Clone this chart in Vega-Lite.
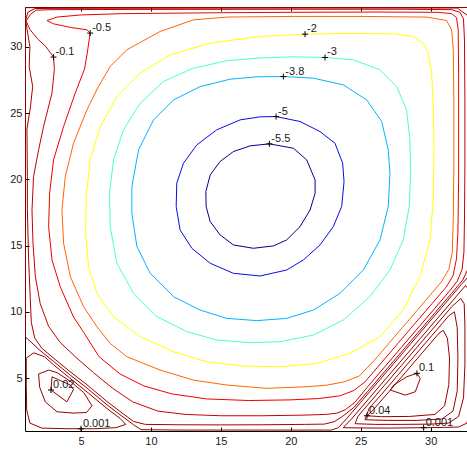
{
"$schema":"https://vega.github.io/schema/vega-lite/v6.json",
"width":442,"height":424,
"autosize":{"type":"none"},
"padding":{"left":25,"top":7,"right":0,"bottom":19},
"background":"white",
"config":{"view":{"stroke":null},"font":"Liberation Sans","axis":{"grid":false,"domainColor":"#000","tickColor":"#000","labelColor":"#1a1a1a","labelFontSize":11,"labelFont":"Liberation Sans","tickSize":-4,"title":null,"domainWidth":1,"tickWidth":1}},
"datasets":{
"c":[
{"c":"a","l":"-5.5","i":0,"x":18.47,"y":22.67},{"c":"a","l":"-5.5","i":1,"x":20.19,"y":22.34},{"c":"a","l":"-5.5","i":2,"x":21.14,"y":21.46},{"c":"a","l":"-5.5","i":3,"x":21.74,"y":19.95},{"c":"a","l":"-5.5","i":4,"x":21.74,"y":18.94},{"c":"a","l":"-5.5","i":5,"x":21.38,"y":17.68},{"c":"a","l":"-5.5","i":6,"x":20.66,"y":16.42},{"c":"a","l":"-5.5","i":7,"x":19.71,"y":15.42},{"c":"a","l":"-5.5","i":8,"x":18.76,"y":14.97},{"c":"a","l":"-5.5","i":9,"x":17.33,"y":14.79},{"c":"a","l":"-5.5","i":10,"x":15.9,"y":15.04},{"c":"a","l":"-5.5","i":11,"x":14.95,"y":15.8},{"c":"a","l":"-5.5","i":12,"x":14.24,"y":16.8},{"c":"a","l":"-5.5","i":13,"x":13.95,"y":17.94},{"c":"a","l":"-5.5","i":14,"x":13.93,"y":19.07},{"c":"a","l":"-5.5","i":15,"x":14.24,"y":20.33},{"c":"a","l":"-5.5","i":16,"x":14.95,"y":21.34},{"c":"a","l":"-5.5","i":17,"x":15.9,"y":22.09},{"c":"a","l":"-5.5","i":18,"x":17.09,"y":22.52},{"c":"a","l":"-5.5","i":19,"x":18.47,"y":22.67},
{"c":"b","l":"-5","i":0,"x":18.95,"y":24.73},{"c":"b","l":"-5","i":1,"x":20.66,"y":24.36},{"c":"b","l":"-5","i":2,"x":22.09,"y":23.6},{"c":"b","l":"-5","i":3,"x":23.16,"y":22.72},{"c":"b","l":"-5","i":4,"x":23.71,"y":21.21},{"c":"b","l":"-5","i":5,"x":23.81,"y":19.82},{"c":"b","l":"-5","i":6,"x":23.64,"y":17.94},{"c":"b","l":"-5","i":7,"x":23.04,"y":16.42},{"c":"b","l":"-5","i":8,"x":22.09,"y":15.04},{"c":"b","l":"-5","i":9,"x":20.9,"y":13.91},{"c":"b","l":"-5","i":10,"x":19.71,"y":13.15},{"c":"b","l":"-5","i":11,"x":17.81,"y":12.7},{"c":"b","l":"-5","i":12,"x":15.9,"y":12.9},{"c":"b","l":"-5","i":13,"x":14.24,"y":13.66},{"c":"b","l":"-5","i":14,"x":12.93,"y":14.79},{"c":"b","l":"-5","i":15,"x":12.09,"y":16.17},{"c":"b","l":"-5","i":16,"x":11.81,"y":17.94},{"c":"b","l":"-5","i":17,"x":11.85,"y":19.7},{"c":"b","l":"-5","i":18,"x":12.33,"y":21.21},{"c":"b","l":"-5","i":19,"x":13.28,"y":22.59},{"c":"b","l":"-5","i":20,"x":14.71,"y":23.73},{"c":"b","l":"-5","i":21,"x":16.38,"y":24.48},{"c":"b","l":"-5","i":22,"x":17.81,"y":24.71},{"c":"b","l":"-5","i":23,"x":18.95,"y":24.73},
{"c":"c","l":"-3.8","i":0,"x":19.47,"y":27.75},{"c":"c","l":"-3.8","i":1,"x":21.62,"y":27.63},{"c":"c","l":"-3.8","i":2,"x":23.76,"y":27.12},{"c":"c","l":"-3.8","i":3,"x":25.43,"y":25.99},{"c":"c","l":"-3.8","i":4,"x":26.5,"y":24.36},{"c":"c","l":"-3.8","i":5,"x":26.97,"y":22.22},{"c":"c","l":"-3.8","i":6,"x":27.09,"y":20.45},{"c":"c","l":"-3.8","i":7,"x":26.97,"y":17.94},{"c":"c","l":"-3.8","i":8,"x":26.38,"y":15.42},{"c":"c","l":"-3.8","i":9,"x":25.19,"y":13.15},{"c":"c","l":"-3.8","i":10,"x":23.52,"y":11.39},{"c":"c","l":"-3.8","i":11,"x":21.62,"y":10.13},{"c":"c","l":"-3.8","i":12,"x":19.71,"y":9.5},{"c":"c","l":"-3.8","i":13,"x":17.57,"y":9.33},{"c":"c","l":"-3.8","i":14,"x":15.43,"y":9.5},{"c":"c","l":"-3.8","i":15,"x":13.52,"y":10.13},{"c":"c","l":"-3.8","i":16,"x":11.62,"y":11.14},{"c":"c","l":"-3.8","i":17,"x":9.95,"y":12.9},{"c":"c","l":"-3.8","i":18,"x":9.0,"y":14.92},{"c":"c","l":"-3.8","i":19,"x":8.64,"y":17.43},{"c":"c","l":"-3.8","i":20,"x":8.64,"y":19.45},{"c":"c","l":"-3.8","i":21,"x":9.12,"y":22.22},{"c":"c","l":"-3.8","i":22,"x":10.19,"y":24.48},{"c":"c","l":"-3.8","i":23,"x":11.62,"y":25.99},{"c":"c","l":"-3.8","i":24,"x":13.52,"y":26.99},{"c":"c","l":"-3.8","i":25,"x":15.66,"y":27.55},{"c":"c","l":"-3.8","i":26,"x":17.57,"y":27.73},{"c":"c","l":"-3.8","i":27,"x":19.47,"y":27.75},
{"c":"d","l":"-3","i":0,"x":22.45,"y":29.19},{"c":"d","l":"-3","i":1,"x":24.47,"y":29.01},{"c":"d","l":"-3","i":2,"x":26.38,"y":28.26},{"c":"d","l":"-3","i":3,"x":27.57,"y":27.0},{"c":"d","l":"-3","i":4,"x":28.28,"y":25.24},{"c":"d","l":"-3","i":5,"x":28.52,"y":22.97},{"c":"d","l":"-3","i":6,"x":28.57,"y":20.45},{"c":"d","l":"-3","i":7,"x":28.47,"y":17.94},{"c":"d","l":"-3","i":8,"x":28.04,"y":15.42},{"c":"d","l":"-3","i":9,"x":27.09,"y":13.15},{"c":"d","l":"-3","i":10,"x":25.66,"y":11.14},{"c":"d","l":"-3","i":11,"x":23.76,"y":9.38},{"c":"d","l":"-3","i":12,"x":21.62,"y":8.24},{"c":"d","l":"-3","i":13,"x":19.24,"y":7.74},{"c":"d","l":"-3","i":14,"x":17.09,"y":7.66},{"c":"d","l":"-3","i":15,"x":14.71,"y":7.87},{"c":"d","l":"-3","i":16,"x":12.57,"y":8.5},{"c":"d","l":"-3","i":17,"x":10.43,"y":9.63},{"c":"d","l":"-3","i":18,"x":8.76,"y":11.39},{"c":"d","l":"-3","i":19,"x":7.57,"y":13.66},{"c":"d","l":"-3","i":20,"x":7.09,"y":16.42},{"c":"d","l":"-3","i":21,"x":7.04,"y":18.94},{"c":"d","l":"-3","i":22,"x":7.33,"y":21.46},{"c":"d","l":"-3","i":23,"x":8.04,"y":23.73},{"c":"d","l":"-3","i":24,"x":9.24,"y":25.74},{"c":"d","l":"-3","i":25,"x":10.9,"y":27.38},{"c":"d","l":"-3","i":26,"x":13.04,"y":28.38},{"c":"d","l":"-3","i":27,"x":15.43,"y":28.94},{"c":"d","l":"-3","i":28,"x":17.81,"y":29.16},{"c":"d","l":"-3","i":29,"x":20.19,"y":29.24},{"c":"d","l":"-3","i":30,"x":22.45,"y":29.19},
{"c":"e","l":"-2","i":0,"x":21.02,"y":30.95},{"c":"e","l":"-2","i":1,"x":23.76,"y":31.0},{"c":"e","l":"-2","i":2,"x":27.33,"y":30.98},{"c":"e","l":"-2","i":3,"x":28.76,"y":30.78},{"c":"e","l":"-2","i":4,"x":29.47,"y":30.27},{"c":"e","l":"-2","i":5,"x":29.83,"y":29.52},{"c":"e","l":"-2","i":6,"x":30.07,"y":28.01},{"c":"e","l":"-2","i":7,"x":30.19,"y":25.49},{"c":"e","l":"-2","i":8,"x":30.24,"y":22.22},{"c":"e","l":"-2","i":9,"x":30.19,"y":18.44},{"c":"e","l":"-2","i":10,"x":29.95,"y":15.42},{"c":"e","l":"-2","i":11,"x":29.24,"y":12.65},{"c":"e","l":"-2","i":12,"x":28.04,"y":10.13},{"c":"e","l":"-2","i":13,"x":26.38,"y":8.12},{"c":"e","l":"-2","i":14,"x":24.24,"y":6.86},{"c":"e","l":"-2","i":15,"x":21.85,"y":6.1},{"c":"e","l":"-2","i":16,"x":19.24,"y":5.85},{"c":"e","l":"-2","i":17,"x":16.62,"y":5.9},{"c":"e","l":"-2","i":18,"x":14.0,"y":6.23},{"c":"e","l":"-2","i":19,"x":11.62,"y":6.98},{"c":"e","l":"-2","i":20,"x":9.24,"y":8.12},{"c":"e","l":"-2","i":21,"x":7.33,"y":9.63},{"c":"e","l":"-2","i":22,"x":6.14,"y":11.39},{"c":"e","l":"-2","i":23,"x":5.54,"y":13.4},{"c":"e","l":"-2","i":24,"x":5.33,"y":15.92},{"c":"e","l":"-2","i":25,"x":5.38,"y":18.69},{"c":"e","l":"-2","i":26,"x":5.66,"y":21.46},{"c":"e","l":"-2","i":27,"x":6.38,"y":23.98},{"c":"e","l":"-2","i":28,"x":7.57,"y":26.24},{"c":"e","l":"-2","i":29,"x":9.24,"y":28.01},{"c":"e","l":"-2","i":30,"x":11.38,"y":29.39},{"c":"e","l":"-2","i":31,"x":14.24,"y":30.27},{"c":"e","l":"-2","i":32,"x":17.81,"y":30.78},{"c":"e","l":"-2","i":33,"x":21.02,"y":30.95},
{"c":"f","l":"-1","i":0,"x":7.09,"y":28.51},{"c":"f","l":"-1","i":1,"x":8.28,"y":29.77},{"c":"f","l":"-1","i":2,"x":10.66,"y":31.15},{"c":"f","l":"-1","i":3,"x":13.04,"y":32.03},{"c":"f","l":"-1","i":4,"x":15.43,"y":32.24},{"c":"f","l":"-1","i":5,"x":20.19,"y":32.29},{"c":"f","l":"-1","i":6,"x":24.95,"y":32.29},{"c":"f","l":"-1","i":7,"x":29.71,"y":32.24},{"c":"f","l":"-1","i":8,"x":31.14,"y":31.98},{"c":"f","l":"-1","i":9,"x":31.5,"y":31.28},{"c":"f","l":"-1","i":10,"x":31.62,"y":29.77},{"c":"f","l":"-1","i":11,"x":31.66,"y":25.99},{"c":"f","l":"-1","i":12,"x":31.66,"y":20.96},{"c":"f","l":"-1","i":13,"x":31.62,"y":17.18},{"c":"f","l":"-1","i":14,"x":31.55,"y":14.5},{"c":"f","l":"-1","i":15,"x":31.3,"y":13.2},{"c":"f","l":"-1","i":16,"x":30.8,"y":12.3},{"c":"f","l":"-1","i":17,"x":30.0,"y":11.3},{"c":"f","l":"-1","i":18,"x":29.0,"y":10.06},{"c":"f","l":"-1","i":19,"x":28.0,"y":8.83},{"c":"f","l":"-1","i":20,"x":27.0,"y":7.6},{"c":"f","l":"-1","i":21,"x":26.0,"y":6.36},{"c":"f","l":"-1","i":22,"x":24.9,"y":5.15},{"c":"f","l":"-1","i":23,"x":23.8,"y":4.7},{"c":"f","l":"-1","i":24,"x":22.5,"y":4.45},{"c":"f","l":"-1","i":25,"x":21.14,"y":4.34},{"c":"f","l":"-1","i":26,"x":18.28,"y":4.22},{"c":"f","l":"-1","i":27,"x":15.43,"y":4.47},{"c":"f","l":"-1","i":28,"x":13.04,"y":4.84},{"c":"f","l":"-1","i":29,"x":10.66,"y":5.6},{"c":"f","l":"-1","i":30,"x":8.28,"y":6.61},{"c":"f","l":"-1","i":31,"x":7.1,"y":7.6},{"c":"f","l":"-1","i":32,"x":6.14,"y":8.87},{"c":"f","l":"-1","i":33,"x":5.19,"y":10.38},{"c":"f","l":"-1","i":34,"x":4.24,"y":12.65},{"c":"f","l":"-1","i":35,"x":3.76,"y":15.17},{"c":"f","l":"-1","i":36,"x":3.64,"y":17.68},{"c":"f","l":"-1","i":37,"x":3.88,"y":20.2},{"c":"f","l":"-1","i":38,"x":4.47,"y":22.72},{"c":"f","l":"-1","i":39,"x":5.43,"y":25.24},{"c":"f","l":"-1","i":40,"x":6.2,"y":26.9},{"c":"f","l":"-1","i":41,"x":7.09,"y":28.51},
{"c":"g","l":"-0.5","i":0,"x":2.57,"y":31.98},{"c":"g","l":"-0.5","i":1,"x":3.3,"y":32.24},{"c":"g","l":"-0.5","i":2,"x":5.0,"y":32.4},{"c":"g","l":"-0.5","i":3,"x":8.0,"y":32.5},{"c":"g","l":"-0.5","i":4,"x":14.0,"y":32.56},{"c":"g","l":"-0.5","i":5,"x":20.0,"y":32.6},{"c":"g","l":"-0.5","i":6,"x":26.0,"y":32.62},{"c":"g","l":"-0.5","i":7,"x":30.5,"y":32.6},{"c":"g","l":"-0.5","i":8,"x":31.5,"y":32.5},{"c":"g","l":"-0.5","i":9,"x":31.85,"y":32.2},{"c":"g","l":"-0.5","i":10,"x":31.97,"y":31.3},{"c":"g","l":"-0.5","i":11,"x":32.0,"y":28.0},{"c":"g","l":"-0.5","i":12,"x":32.0,"y":24.0},{"c":"g","l":"-0.5","i":13,"x":32.0,"y":20.0},{"c":"g","l":"-0.5","i":14,"x":31.95,"y":16.0},{"c":"g","l":"-0.5","i":15,"x":31.85,"y":14.0},{"c":"g","l":"-0.5","i":16,"x":31.6,"y":12.7},{"c":"g","l":"-0.5","i":17,"x":31.1,"y":11.85},{"c":"g","l":"-0.5","i":18,"x":30.1,"y":10.62},{"c":"g","l":"-0.5","i":19,"x":28.9,"y":9.14},{"c":"g","l":"-0.5","i":20,"x":27.7,"y":7.66},{"c":"g","l":"-0.5","i":21,"x":26.5,"y":6.18},{"c":"g","l":"-0.5","i":22,"x":25.3,"y":4.7},{"c":"g","l":"-0.5","i":23,"x":24.5,"y":4.05},{"c":"g","l":"-0.5","i":24,"x":23.5,"y":3.65},{"c":"g","l":"-0.5","i":25,"x":22.0,"y":3.45},{"c":"g","l":"-0.5","i":26,"x":20.0,"y":3.35},{"c":"g","l":"-0.5","i":27,"x":17.0,"y":3.3},{"c":"g","l":"-0.5","i":28,"x":14.0,"y":3.42},{"c":"g","l":"-0.5","i":29,"x":11.5,"y":3.8},{"c":"g","l":"-0.5","i":30,"x":9.5,"y":4.4},{"c":"g","l":"-0.5","i":31,"x":7.8,"y":5.3},{"c":"g","l":"-0.5","i":32,"x":6.3,"y":6.6},{"c":"g","l":"-0.5","i":33,"x":5.1,"y":8.6},{"c":"g","l":"-0.5","i":34,"x":4.47,"y":9.6},{"c":"g","l":"-0.5","i":35,"x":3.52,"y":11.89},{"c":"g","l":"-0.5","i":36,"x":2.93,"y":13.91},{"c":"g","l":"-0.5","i":37,"x":2.69,"y":16.42},{"c":"g","l":"-0.5","i":38,"x":2.76,"y":18.95},{"c":"g","l":"-0.5","i":39,"x":3.04,"y":21.46},{"c":"g","l":"-0.5","i":40,"x":3.76,"y":23.98},{"c":"g","l":"-0.5","i":41,"x":4.59,"y":26.5},{"c":"g","l":"-0.5","i":42,"x":5.25,"y":28.3},{"c":"g","l":"-0.5","i":43,"x":5.45,"y":29.5},{"c":"g","l":"-0.5","i":44,"x":5.54,"y":30.2},{"c":"g","l":"-0.5","i":45,"x":5.66,"y":31.03},{"c":"g","l":"-0.5","i":46,"x":5.43,"y":31.28},{"c":"g","l":"-0.5","i":47,"x":4.3,"y":31.45},{"c":"g","l":"-0.5","i":48,"x":3.04,"y":31.73},{"c":"g","l":"-0.5","i":49,"x":2.57,"y":31.98},
{"c":"h","l":"-0.1","i":0,"x":3.04,"y":29.22},{"c":"h","l":"-0.1","i":1,"x":2.5,"y":30.0},{"c":"h","l":"-0.1","i":2,"x":1.9,"y":30.6},{"c":"h","l":"-0.1","i":3,"x":1.35,"y":31.3},{"c":"h","l":"-0.1","i":4,"x":1.08,"y":31.95},{"c":"h","l":"-0.1","i":5,"x":1.4,"y":32.45},{"c":"h","l":"-0.1","i":6,"x":1.8,"y":32.76},{"c":"h","l":"-0.1","i":7,"x":3.0,"y":32.8},{"c":"h","l":"-0.1","i":8,"x":10.0,"y":32.82},{"c":"h","l":"-0.1","i":9,"x":20.0,"y":32.83},{"c":"h","l":"-0.1","i":10,"x":28.0,"y":32.83},{"c":"h","l":"-0.1","i":11,"x":31.5,"y":32.8},{"c":"h","l":"-0.1","i":12,"x":32.1,"y":32.6},{"c":"h","l":"-0.1","i":13,"x":32.35,"y":32.1},{"c":"h","l":"-0.1","i":14,"x":32.42,"y":30.5},{"c":"h","l":"-0.1","i":15,"x":32.45,"y":26.0},{"c":"h","l":"-0.1","i":16,"x":32.45,"y":21.0},{"c":"h","l":"-0.1","i":17,"x":32.42,"y":17.0},{"c":"h","l":"-0.1","i":18,"x":32.38,"y":14.5},{"c":"h","l":"-0.1","i":19,"x":32.25,"y":13.2},{"c":"h","l":"-0.1","i":20,"x":31.9,"y":12.3},{"c":"h","l":"-0.1","i":21,"x":31.3,"y":11.5},{"c":"h","l":"-0.1","i":22,"x":30.3,"y":10.26},{"c":"h","l":"-0.1","i":23,"x":29.1,"y":8.78},{"c":"h","l":"-0.1","i":24,"x":27.9,"y":7.3},{"c":"h","l":"-0.1","i":25,"x":26.7,"y":5.82},{"c":"h","l":"-0.1","i":26,"x":25.5,"y":4.34},{"c":"h","l":"-0.1","i":27,"x":24.6,"y":3.18},{"c":"h","l":"-0.1","i":28,"x":23.9,"y":2.6},{"c":"h","l":"-0.1","i":29,"x":23.3,"y":2.35},{"c":"h","l":"-0.1","i":30,"x":22.5,"y":2.25},{"c":"h","l":"-0.1","i":31,"x":21.0,"y":2.2},{"c":"h","l":"-0.1","i":32,"x":18.0,"y":2.15},{"c":"h","l":"-0.1","i":33,"x":15.0,"y":2.15},{"c":"h","l":"-0.1","i":34,"x":12.5,"y":2.25},{"c":"h","l":"-0.1","i":35,"x":10.5,"y":2.5},{"c":"h","l":"-0.1","i":36,"x":8.7,"y":3.2},{"c":"h","l":"-0.1","i":37,"x":7.3,"y":4.2},{"c":"h","l":"-0.1","i":38,"x":5.9,"y":5.4},{"c":"h","l":"-0.1","i":39,"x":4.6,"y":6.6},{"c":"h","l":"-0.1","i":40,"x":3.5,"y":7.7},{"c":"h","l":"-0.1","i":41,"x":2.69,"y":8.9},{"c":"h","l":"-0.1","i":42,"x":2.09,"y":10.6},{"c":"h","l":"-0.1","i":43,"x":1.74,"y":12.65},{"c":"h","l":"-0.1","i":44,"x":1.57,"y":15.2},{"c":"h","l":"-0.1","i":45,"x":1.5,"y":17.68},{"c":"h","l":"-0.1","i":46,"x":1.61,"y":20.2},{"c":"h","l":"-0.1","i":47,"x":1.97,"y":22.2},{"c":"h","l":"-0.1","i":48,"x":2.33,"y":24.0},{"c":"h","l":"-0.1","i":49,"x":2.93,"y":26.5},{"c":"h","l":"-0.1","i":50,"x":3.1,"y":28.3},{"c":"h","l":"-0.1","i":51,"x":3.04,"y":29.22},
{"c":"i","l":"-0.01","i":0,"x":1.05,"y":32.0},{"c":"i","l":"-0.01","i":1,"x":1.15,"y":31.3},{"c":"i","l":"-0.01","i":2,"x":1.35,"y":30.0},{"c":"i","l":"-0.01","i":3,"x":1.3,"y":28.5},{"c":"i","l":"-0.01","i":4,"x":1.55,"y":27.0},{"c":"i","l":"-0.01","i":5,"x":1.38,"y":25.4},{"c":"i","l":"-0.01","i":6,"x":1.14,"y":23.8},{"c":"i","l":"-0.01","i":7,"x":1.17,"y":20.2},{"c":"i","l":"-0.01","i":8,"x":1.17,"y":17.7},{"c":"i","l":"-0.01","i":9,"x":1.26,"y":13.9},{"c":"i","l":"-0.01","i":10,"x":1.38,"y":10.9},{"c":"i","l":"-0.01","i":11,"x":1.45,"y":9.2},{"c":"i","l":"-0.01","i":12,"x":1.7,"y":8.0},{"c":"i","l":"-0.01","i":13,"x":2.2,"y":7.25},{"c":"i","l":"-0.01","i":14,"x":3.04,"y":6.5},{"c":"i","l":"-0.01","i":15,"x":4.2,"y":5.5},{"c":"i","l":"-0.01","i":16,"x":5.43,"y":4.49},{"c":"i","l":"-0.01","i":17,"x":6.86,"y":3.23},{"c":"i","l":"-0.01","i":18,"x":7.8,"y":2.47},{"c":"i","l":"-0.01","i":19,"x":8.76,"y":1.72},{"c":"i","l":"-0.01","i":20,"x":9.6,"y":1.5},{"c":"i","l":"-0.01","i":21,"x":12.0,"y":1.47},{"c":"i","l":"-0.01","i":22,"x":15.0,"y":1.46},{"c":"i","l":"-0.01","i":23,"x":18.0,"y":1.47},{"c":"i","l":"-0.01","i":24,"x":21.0,"y":1.5},{"c":"i","l":"-0.01","i":25,"x":22.4,"y":1.52},{"c":"i","l":"-0.01","i":26,"x":23.1,"y":1.7},{"c":"i","l":"-0.01","i":27,"x":23.7,"y":2.1},{"c":"i","l":"-0.01","i":28,"x":24.5,"y":2.76},{"c":"i","l":"-0.01","i":29,"x":25.5,"y":3.99},{"c":"i","l":"-0.01","i":30,"x":26.7,"y":5.47},{"c":"i","l":"-0.01","i":31,"x":27.9,"y":6.95},{"c":"i","l":"-0.01","i":32,"x":29.1,"y":8.43},{"c":"i","l":"-0.01","i":33,"x":30.3,"y":9.91},{"c":"i","l":"-0.01","i":34,"x":31.5,"y":11.39},{"c":"i","l":"-0.01","i":35,"x":32.3,"y":12.4},{"c":"i","l":"-0.01","i":36,"x":32.7,"y":13.3},{"c":"i","l":"-0.01","i":37,"x":32.75,"y":15.0},{"c":"i","l":"-0.01","i":38,"x":32.75,"y":20.0},{"c":"i","l":"-0.01","i":39,"x":32.75,"y":30.0},{"c":"i","l":"-0.01","i":40,"x":32.72,"y":32.3},{"c":"i","l":"-0.01","i":41,"x":31.9,"y":32.92},{"c":"i","l":"-0.01","i":42,"x":20.0,"y":32.92},{"c":"i","l":"-0.01","i":43,"x":3.0,"y":32.9},{"c":"i","l":"-0.01","i":44,"x":1.7,"y":32.88},{"c":"i","l":"-0.01","i":45,"x":1.2,"y":32.6},{"c":"i","l":"-0.01","i":46,"x":1.05,"y":32.0},
{"c":"j","l":"-0.001","i":0,"x":1.03,"y":32.95},{"c":"j","l":"-0.001","i":1,"x":1.03,"y":20.0},{"c":"j","l":"-0.001","i":2,"x":1.03,"y":8.1},{"c":"j","l":"-0.001","i":3,"x":2.0,"y":7.15},{"c":"j","l":"-0.001","i":4,"x":3.04,"y":6.25},{"c":"j","l":"-0.001","i":5,"x":4.2,"y":5.25},{"c":"j","l":"-0.001","i":6,"x":5.43,"y":4.24},{"c":"j","l":"-0.001","i":7,"x":6.86,"y":2.98},{"c":"j","l":"-0.001","i":8,"x":7.8,"y":2.22},{"c":"j","l":"-0.001","i":9,"x":8.76,"y":1.47},{"c":"j","l":"-0.001","i":10,"x":9.3,"y":1.1},{"c":"j","l":"-0.001","i":11,"x":12.0,"y":1.07},{"c":"j","l":"-0.001","i":12,"x":18.0,"y":1.07},{"c":"j","l":"-0.001","i":13,"x":22.9,"y":1.07},{"c":"j","l":"-0.001","i":14,"x":23.4,"y":1.25},{"c":"j","l":"-0.001","i":15,"x":24.0,"y":1.94},{"c":"j","l":"-0.001","i":16,"x":25.0,"y":3.17},{"c":"j","l":"-0.001","i":17,"x":26.2,"y":4.66},{"c":"j","l":"-0.001","i":18,"x":27.4,"y":6.14},{"c":"j","l":"-0.001","i":19,"x":28.6,"y":7.62},{"c":"j","l":"-0.001","i":20,"x":29.8,"y":9.1},{"c":"j","l":"-0.001","i":21,"x":31.0,"y":10.58},{"c":"j","l":"-0.001","i":22,"x":32.2,"y":12.06},{"c":"j","l":"-0.001","i":23,"x":32.9,"y":12.9},{"c":"j","l":"-0.001","i":24,"x":32.95,"y":20.0},{"c":"j","l":"-0.001","i":25,"x":32.95,"y":32.96},{"c":"j","l":"-0.001","i":26,"x":20.0,"y":32.97},{"c":"j","l":"-0.001","i":27,"x":1.03,"y":32.95},
{"c":"k","l":"0.001","i":0,"x":1.09,"y":6.5},{"c":"k","l":"0.001","i":1,"x":1.62,"y":6.9},{"c":"k","l":"0.001","i":2,"x":2.4,"y":6.6},{"c":"k","l":"0.001","i":3,"x":3.04,"y":6.0},{"c":"k","l":"0.001","i":4,"x":4.2,"y":5.0},{"c":"k","l":"0.001","i":5,"x":5.43,"y":3.95},{"c":"k","l":"0.001","i":6,"x":6.86,"y":2.7},{"c":"k","l":"0.001","i":7,"x":7.8,"y":1.95},{"c":"k","l":"0.001","i":8,"x":8.2,"y":1.5},{"c":"k","l":"0.001","i":9,"x":7.5,"y":1.25},{"c":"k","l":"0.001","i":10,"x":6.0,"y":1.17},{"c":"k","l":"0.001","i":11,"x":4.0,"y":1.17},{"c":"k","l":"0.001","i":12,"x":2.2,"y":1.22},{"c":"k","l":"0.001","i":13,"x":1.35,"y":1.6},{"c":"k","l":"0.001","i":14,"x":1.12,"y":2.6},{"c":"k","l":"0.001","i":15,"x":1.09,"y":4.5},{"c":"k","l":"0.001","i":16,"x":1.09,"y":6.5},
{"c":"l","l":"0.01","i":0,"x":1.97,"y":5.3},{"c":"l","l":"0.01","i":1,"x":2.7,"y":5.6},{"c":"l","l":"0.01","i":2,"x":3.3,"y":5.4},{"c":"l","l":"0.01","i":3,"x":4.24,"y":4.75},{"c":"l","l":"0.01","i":4,"x":5.2,"y":3.9},{"c":"l","l":"0.01","i":5,"x":5.79,"y":2.9},{"c":"l","l":"0.01","i":6,"x":5.4,"y":2.4},{"c":"l","l":"0.01","i":7,"x":4.5,"y":2.35},{"c":"l","l":"0.01","i":8,"x":3.29,"y":2.45},{"c":"l","l":"0.01","i":9,"x":2.45,"y":3.2},{"c":"l","l":"0.01","i":10,"x":2.05,"y":4.3},{"c":"l","l":"0.01","i":11,"x":1.97,"y":5.3},
{"c":"m","l":"0.02","i":0,"x":2.93,"y":5.09},{"c":"m","l":"0.02","i":1,"x":4.24,"y":4.47},{"c":"m","l":"0.02","i":2,"x":4.47,"y":4.14},{"c":"m","l":"0.02","i":3,"x":4.0,"y":3.2},{"c":"m","l":"0.02","i":4,"x":2.86,"y":4.09},{"c":"m","l":"0.02","i":5,"x":2.93,"y":5.09},
{"c":"n","l":"0.001","i":0,"x":23.75,"y":1.25},{"c":"n","l":"0.001","i":1,"x":24.4,"y":1.98},{"c":"n","l":"0.001","i":2,"x":25.6,"y":3.46},{"c":"n","l":"0.001","i":3,"x":26.8,"y":4.95},{"c":"n","l":"0.001","i":4,"x":28.0,"y":6.43},{"c":"n","l":"0.001","i":5,"x":29.2,"y":7.91},{"c":"n","l":"0.001","i":6,"x":30.4,"y":9.39},{"c":"n","l":"0.001","i":7,"x":31.6,"y":10.87},{"c":"n","l":"0.001","i":8,"x":32.5,"y":11.98},{"c":"n","l":"0.001","i":9,"x":32.85,"y":11.5},{"c":"n","l":"0.001","i":10,"x":32.85,"y":8.0},{"c":"n","l":"0.001","i":11,"x":32.85,"y":3.0},{"c":"n","l":"0.001","i":12,"x":32.6,"y":1.6},{"c":"n","l":"0.001","i":13,"x":32.0,"y":1.3},{"c":"n","l":"0.001","i":14,"x":31.0,"y":1.27},{"c":"n","l":"0.001","i":15,"x":29.5,"y":1.25},{"c":"n","l":"0.001","i":16,"x":27.0,"y":1.22},{"c":"n","l":"0.001","i":17,"x":25.0,"y":1.23},{"c":"n","l":"0.001","i":18,"x":23.75,"y":1.25},
{"c":"o","l":"0.01","i":0,"x":24.6,"y":1.55},{"c":"o","l":"0.01","i":1,"x":26.0,"y":1.5},{"c":"o","l":"0.01","i":2,"x":28.0,"y":1.5},{"c":"o","l":"0.01","i":3,"x":30.0,"y":1.52},{"c":"o","l":"0.01","i":4,"x":31.3,"y":1.6},{"c":"o","l":"0.01","i":5,"x":32.0,"y":2.1},{"c":"o","l":"0.01","i":6,"x":32.35,"y":3.5},{"c":"o","l":"0.01","i":7,"x":32.45,"y":6.0},{"c":"o","l":"0.01","i":8,"x":32.45,"y":9.0},{"c":"o","l":"0.01","i":9,"x":32.4,"y":10.6},{"c":"o","l":"0.01","i":10,"x":32.15,"y":11.0},{"c":"o","l":"0.01","i":11,"x":31.5,"y":10.37},{"c":"o","l":"0.01","i":12,"x":30.3,"y":8.89},{"c":"o","l":"0.01","i":13,"x":29.1,"y":7.41},{"c":"o","l":"0.01","i":14,"x":27.9,"y":5.93},{"c":"o","l":"0.01","i":15,"x":26.7,"y":4.45},{"c":"o","l":"0.01","i":16,"x":25.5,"y":2.97},{"c":"o","l":"0.01","i":17,"x":24.8,"y":2.1},{"c":"o","l":"0.01","i":18,"x":24.6,"y":1.55},
{"c":"p","l":"0.02","i":0,"x":25.3,"y":1.85},{"c":"p","l":"0.02","i":1,"x":27.0,"y":1.8},{"c":"p","l":"0.02","i":2,"x":29.0,"y":1.8},{"c":"p","l":"0.02","i":3,"x":30.8,"y":1.9},{"c":"p","l":"0.02","i":4,"x":31.6,"y":2.5},{"c":"p","l":"0.02","i":5,"x":31.9,"y":4.0},{"c":"p","l":"0.02","i":6,"x":31.95,"y":6.5},{"c":"p","l":"0.02","i":7,"x":31.9,"y":8.8},{"c":"p","l":"0.02","i":8,"x":31.7,"y":10.0},{"c":"p","l":"0.02","i":9,"x":31.3,"y":9.7},{"c":"p","l":"0.02","i":10,"x":30.1,"y":8.22},{"c":"p","l":"0.02","i":11,"x":28.9,"y":6.74},{"c":"p","l":"0.02","i":12,"x":27.7,"y":5.26},{"c":"p","l":"0.02","i":13,"x":26.5,"y":3.78},{"c":"p","l":"0.02","i":14,"x":25.6,"y":2.7},{"c":"p","l":"0.02","i":15,"x":25.3,"y":1.85},
{"c":"q","l":"0.04","i":0,"x":25.45,"y":2.15},{"c":"q","l":"0.04","i":1,"x":26.5,"y":2.08},{"c":"q","l":"0.04","i":2,"x":28.5,"y":2.1},{"c":"q","l":"0.04","i":3,"x":30.3,"y":2.25},{"c":"q","l":"0.04","i":4,"x":31.0,"y":2.9},{"c":"q","l":"0.04","i":5,"x":31.3,"y":4.5},{"c":"q","l":"0.04","i":6,"x":31.35,"y":6.5},{"c":"q","l":"0.04","i":7,"x":31.2,"y":8.0},{"c":"q","l":"0.04","i":8,"x":30.9,"y":8.6},{"c":"q","l":"0.04","i":9,"x":30.6,"y":8.38},{"c":"q","l":"0.04","i":10,"x":29.4,"y":6.9},{"c":"q","l":"0.04","i":11,"x":28.2,"y":5.42},{"c":"q","l":"0.04","i":12,"x":27.0,"y":3.94},{"c":"q","l":"0.04","i":13,"x":25.9,"y":2.6},{"c":"q","l":"0.04","i":14,"x":25.45,"y":2.15},
{"c":"r","l":"0.1","i":0,"x":29.02,"y":5.35},{"c":"r","l":"0.1","i":1,"x":29.26,"y":4.97},{"c":"r","l":"0.1","i":2,"x":28.9,"y":3.96},{"c":"r","l":"0.1","i":3,"x":28.19,"y":3.71},{"c":"r","l":"0.1","i":4,"x":27.12,"y":4.09},{"c":"r","l":"0.1","i":5,"x":27.36,"y":4.47},{"c":"r","l":"0.1","i":6,"x":28.31,"y":5.1},{"c":"r","l":"0.1","i":7,"x":29.02,"y":5.35}
],
"lab":[
{"x":5.66,"y":31.03,"t":"-0.5"},{"x":3.04,"y":29.22,"t":"-0.1"},{"x":21.02,"y":30.95,"t":"-2"},{"x":22.45,"y":29.19,"t":"-3"},{"x":19.47,"y":27.75,"t":"-3.8"},{"x":18.95,"y":24.73,"t":"-5"},{"x":18.47,"y":22.67,"t":"-5.5"},{"x":29.02,"y":5.35,"t":"0.1"},{"x":25.45,"y":2.15,"t":"0.04"},{"x":29.5,"y":1.25,"t":"0.001"},{"x":2.86,"y":4.09,"t":"0.02"},{"x":5.0,"y":1.17,"t":"0.001"}
]
},
"resolve":{"axis":{"x":"independent"}},
"layer":[
{"data":{"name":"c"},"mark":{"type":"line","strokeWidth":1,"clip":true},
 "encoding":{
  "x":{"field":"x","type":"quantitative","scale":{"domain":[1,32.6],"nice":false,"zero":false},"axis":{"orient":"bottom","values":[5,10,15,20,25,30],"labelPadding":8}},
  "y":{"field":"y","type":"quantitative","scale":{"domain":[1,33],"nice":false,"zero":false},"axis":{"orient":"left","values":[5,10,15,20,25,30],"labelPadding":7}},
  "detail":{"field":"c","type":"nominal"},
  "order":{"field":"i","type":"quantitative"},
  "color":{"field":"l","type":"nominal","scale":{"domain":["-5.5","-5","-3.8","-3","-2","-1","-0.5","-0.1","-0.01","-0.001","0.001","0.01","0.02","0.04","0.1"],"range":["#00008c","#0a0ae6","#00b4ff","#4cffc0","#ffff00","#ff6400","#f00000","#c80000","#a80000","#960000","#960000","#9a0000","#9a0000","#9a0000","#9a0000"]},"legend":null}
 }},
{"data":{"name":"lab"},"mark":{"type":"point","shape":"M-1,0L1,0M0,-1L0,1","size":36,"filled":false,"stroke":"#000","strokeWidth":1,"opacity":1},
 "encoding":{"x":{"field":"x","type":"quantitative","axis":{"orient":"top","values":[5,10,15,20,25,30],"labels":false}},"y":{"field":"y","type":"quantitative"}}},
{"data":{"name":"lab"},"mark":{"type":"text","align":"left","baseline":"alphabetic","dx":2,"dy":-2,"fontSize":11,"color":"#1a1a1a"},
 "encoding":{"x":{"field":"x","type":"quantitative","axis":null},"y":{"field":"y","type":"quantitative"},"text":{"field":"t"}}}
]
}
